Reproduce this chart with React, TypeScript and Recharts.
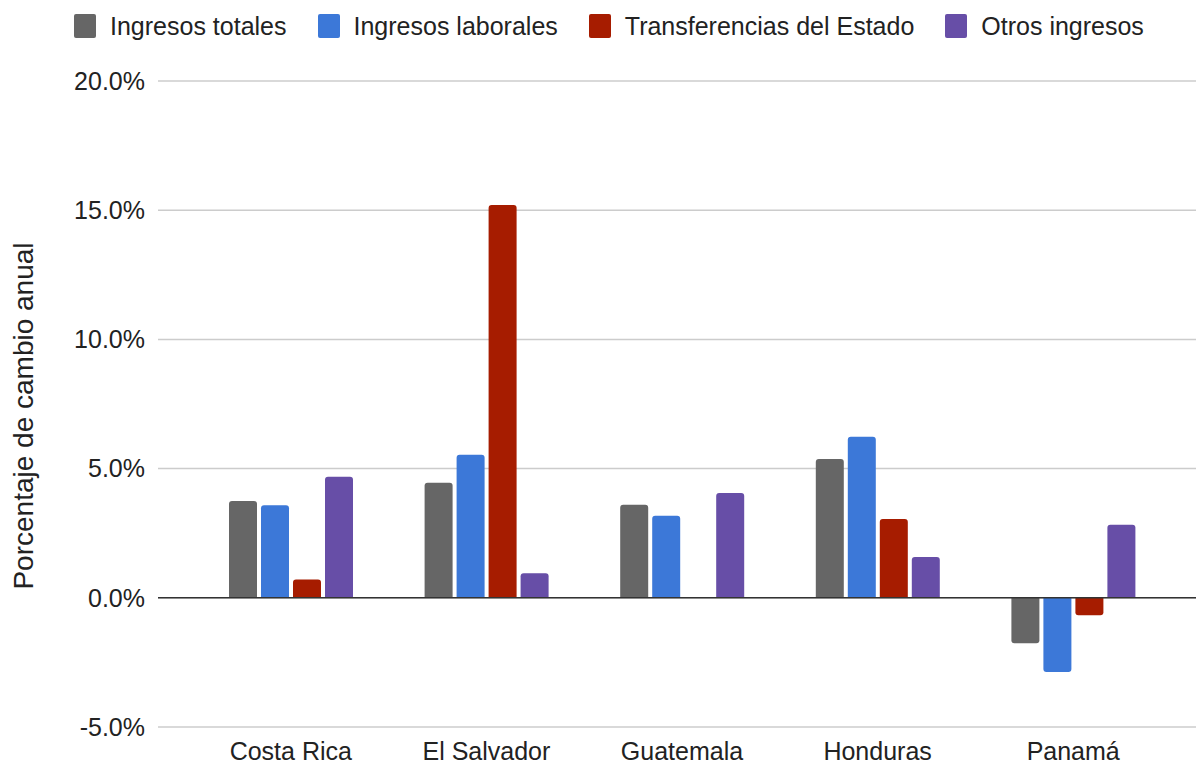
import { Bar, BarChart, CartesianGrid, Legend, ReferenceLine, XAxis, YAxis } from "recharts";

const FONT = "'Liberation Sans', Arial, sans-serif";
const TEXT = "#222222";
const GRID = "#cccccc";

const countries = ["Costa Rica", "El Salvador", "Guatemala", "Honduras", "Panamá"];
const totales = [3.75, 4.45, 3.6, 5.37, -1.76];
const laborales = [3.58, 5.54, 3.18, 6.23, -2.87];
const transferencias = [0.71, 15.2, 0, 3.05, -0.68];
const otros = [4.68, 0.95, 4.06, 1.58, 2.83];
const yTicks = [-5, 0, 5, 10, 15, 20];

const series = [
  { key: "totales", name: "Ingresos totales", color: "#666666" },
  { key: "laborales", name: "Ingresos laborales", color: "#3c78d8" },
  { key: "transferencias", name: "Transferencias del Estado", color: "#a61c00" },
  { key: "otros", name: "Otros ingresos", color: "#674ea7" },
];

const data = countries.map((country, i) => ({
  country,
  totales: totales[i],
  laborales: laborales[i],
  transferencias: transferencias[i],
  otros: otros[i],
}));

// legend block is 52px tall, recharts adds it on top of margin.top
function LegendRow() {
  return (
    <div style={{ display: "flex", alignItems: "center", paddingLeft: 74, height: 52, fontFamily: FONT, fontSize: 25, color: TEXT }}>
      {series.map((s) => (
        <div key={s.key} style={{ display: "flex", alignItems: "center", marginRight: 31 }}>
          <span style={{ width: 22, height: 24, background: s.color, borderRadius: 2, marginRight: 14, display: "inline-block" }} />
          <span style={{ whiteSpace: "nowrap" }}>{s.name}</span>
        </div>
      ))}
    </div>
  );
}

export default function App() {
  return (
    <div style={{ position: "absolute", left: 0, top: 0, width: 1196, height: 765, background: "#fff" }}>
      <BarChart
        width={1196}
        height={765}
        data={data}
        margin={{ top: 29, right: 0, bottom: 0, left: 0 }}
        barSize={28}
        barGap={4}
      >
        <CartesianGrid vertical={false} stroke={GRID} strokeWidth={1.5} />
        <XAxis
          dataKey="country"
          height={38}
          axisLine={false}
          tickLine={false}
          tickSize={0}
          tickMargin={15}
          padding={{ left: 35, right: 25 }}
          tick={{ fontSize: 25, fill: TEXT, fontFamily: FONT }}
        />
        <YAxis
          width={158}
          domain={[-5, 20]}
          ticks={yTicks}
          axisLine={false}
          tickLine={false}
          tickSize={0}
          tickMargin={13}
          tickFormatter={(v) => `${Number(v).toFixed(1)}%`}
          tick={{ fontSize: 25, fill: TEXT, fontFamily: FONT }}
          label={() => (
            <text
              x={33}
              y={416}
              transform="rotate(-90 33 416)"
              textAnchor="middle"
              style={{ fontSize: 28, fill: TEXT, fontFamily: FONT }}
            >
              Porcentaje de cambio anual
            </text>
          )}
        />
        <Legend verticalAlign="top" align="left" wrapperStyle={{ top: 0, left: 0, width: 1196 }} content={() => <LegendRow />} />
        <ReferenceLine y={0} stroke="#333333" strokeWidth={1.5} />
        {series.map((s) => (
          <Bar key={s.key} dataKey={s.key} name={s.name} fill={s.color} radius={[3, 3, 0, 0]} isAnimationActive={false} />
        ))}
      </BarChart>
    </div>
  );
}
